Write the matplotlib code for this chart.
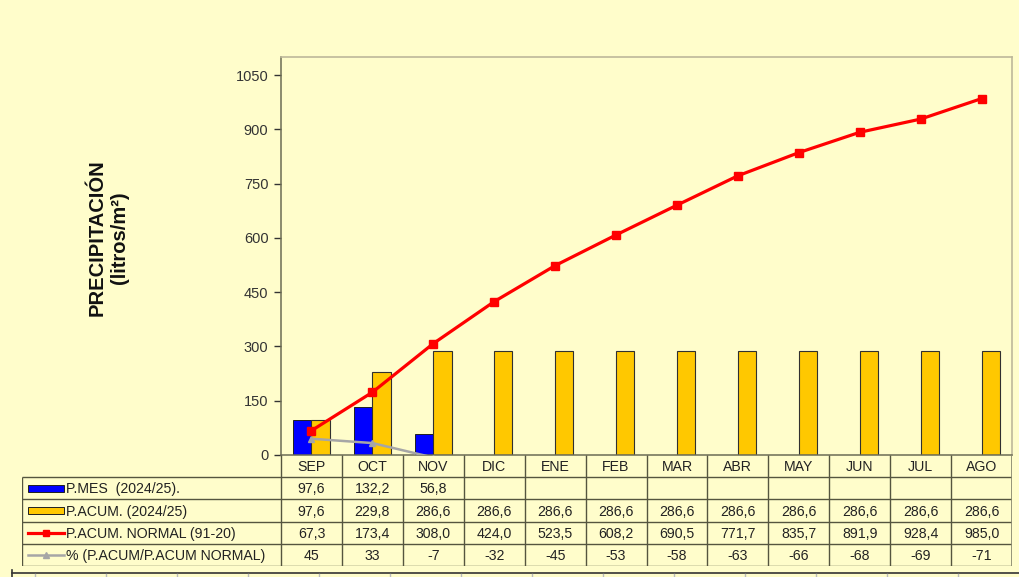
import numpy as np
import matplotlib.pyplot as plt
from matplotlib.lines import Line2D
from matplotlib.patches import Rectangle

plt.rcParams["font.family"] = ["Liberation Sans", "DejaVu Sans"]

# ---- data ---------------------------------------------------------------
months = ["SEP", "OCT", "NOV", "DIC", "ENE", "FEB", "MAR", "ABR",
          "MAY", "JUN", "JUL", "AGO"]
p_mes = [97.6, 132.2, 56.8, None, None, None, None, None, None, None, None, None]
p_acum = [97.6, 229.8, 286.6, 286.6, 286.6, 286.6, 286.6, 286.6,
          286.6, 286.6, 286.6, 286.6]
p_normal = [67.3, 173.4, 308.0, 424.0, 523.5, 608.2, 690.5, 771.7,
            835.7, 891.9, 928.4, 985.0]
pct = [45, 33, -7, -32, -45, -53, -58, -63, -66, -68, -69, -71]

series_names = ["P.MES  (2024/25).", "P.ACUM. (2024/25)",
                "P.ACUM. NORMAL (91-20)", "% (P.ACUM/P.ACUM NORMAL)"]

BG = "#FFFDCB"
BLUE = "#0000FF"
GOLD = "#FFC800"
RED = "#FF0000"
GREY = "#A6A6A6"
GRID = "#55553f"

W, H = 1019, 577
fig = plt.figure(figsize=(W / 100, H / 100), dpi=100, facecolor=BG)


def box(l, t, r, b):
    return [l / W, 1 - b / H, (r - l) / W, (b - t) / H]


# ---- main plot ------------------------------------------------------------
x = np.arange(len(months))
mes_vals = np.array([np.nan if v is None else v for v in p_mes])

ax = fig.add_axes(box(281, 57, 1012, 455))
ax.set_facecolor(BG)
ax.bar(x - 0.15, mes_vals, 0.3, color=BLUE, edgecolor="#202020", linewidth=0.7, zorder=2)
ax.bar(x + 0.15, p_acum, 0.3, color=GOLD, edgecolor="#303030", linewidth=0.8, zorder=2)
ax.plot(x, p_normal, color=RED, lw=2.3, marker="s", ms=6, zorder=4)
ax.plot(x, pct, color=GREY, lw=1.8, marker="^", ms=5, zorder=3)

ax.set_xlim(-0.5, 11.5)
ax.set_ylim(0, 1100)
ax.set_yticks(np.arange(0, 1051, 150))
ax.tick_params(axis="y", direction="out", length=5, width=1, colors="#333333",
               labelsize=10.5, pad=4)
ax.set_xticks([])
for s in ("left", "bottom"):
    ax.spines[s].set_color("#6b6b55")
    ax.spines[s].set_linewidth(1.1)
for s in ("top", "right"):
    ax.spines[s].set_color("#bdb89a")
    ax.spines[s].set_linewidth(1.2)

fig.text(108 / W, 1 - 238 / H, "PRECIPITACIÓN\n(litros/m²)", rotation=90,
         ha="center", va="center", fontsize=14.5, fontweight="bold",
         multialignment="center", linespacing=1.2, color="#111111")

# ---- data table under the plot --------------------------------------------
unit = (1012 - 281) / 12
x_left = -0.5 - (281 - 22) / unit
tax = fig.add_axes(box(22, 455, 1012, 566))
tax.set_xlim(x_left, 11.5)
tax.set_ylim(5, 0)
tax.axis("off")

lk = dict(color=GRID, lw=1.0, solid_capstyle="butt")
for r in (1, 2, 3, 4, 5):
    tax.plot([x_left, 11.5], [r, r], **lk)
for i in range(13):
    tax.plot([i - 0.5, i - 0.5], [0, 5], **lk)
tax.plot([x_left, x_left], [1, 5], **lk)
tax.plot([11.5, 11.5], [0, 5], color="#8a8a70", lw=1.2)

fs = 10.2
for i, m in enumerate(months):
    tax.text(i, 0.55, m, ha="center", va="center", fontsize=fs, color="#222222")


def fmt(v):
    return "" if v is None else f"{v:.1f}".replace(".", ",")


rows = [[fmt(v) for v in p_mes], [fmt(v) for v in p_acum],
        [fmt(v) for v in p_normal], [str(v) for v in pct]]
for r, vals in enumerate(rows, start=1):
    for i, s in enumerate(vals):
        tax.text(i, r + 0.55, s, ha="center", va="center", fontsize=fs, color="#222222")


def px(p):
    return x_left + (p - 22) / unit


# legend keys
tax.add_patch(Rectangle((px(28), 1.33), px(64) - px(28), 0.34,
                        facecolor=BLUE, edgecolor="#202020", lw=0.7))
tax.add_patch(Rectangle((px(28), 2.33), px(64) - px(28), 0.34,
                        facecolor=GOLD, edgecolor="#202020", lw=0.7))
tax.plot([px(28), px(64)], [3.5, 3.5], color=RED, lw=2.3)
tax.plot([px(46)], [3.5], color=RED, marker="s", ms=4)
tax.plot([px(28), px(64)], [4.5, 4.5], color=GREY, lw=1.8)
tax.plot([px(46)], [4.5], color=GREY, marker="^", ms=4)
for r, name in enumerate(series_names, start=1):
    tax.text(px(66), r + 0.55, name, ha="left", va="center", fontsize=fs,
             color="#222222")

# ---- edge of the next panel at the bottom ---------------------------------
fig.add_artist(Line2D([12 / W, 1], [1 - 573 / H] * 2, color="#333333", lw=1.2))
fig.add_artist(Line2D([12 / W, 12 / W], [0, 1 - 570 / H], color="#333333", lw=1.2))
for tx in range(35, W, 71):
    fig.add_artist(Line2D([tx / W] * 2, [0, 1 - 574 / H], color="#bbbbbb", lw=1))

fig.savefig("out.png", dpi=100, facecolor=BG)
